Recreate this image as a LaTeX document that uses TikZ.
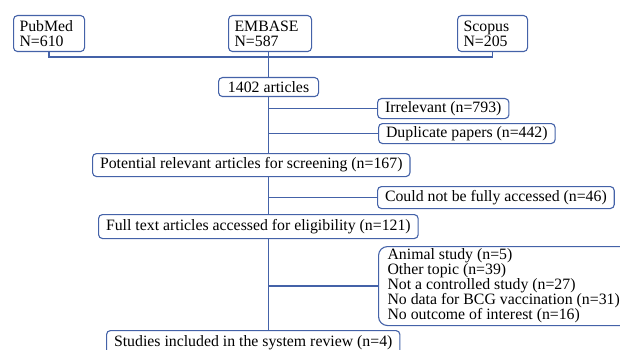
\documentclass[tikz,border=0pt]{standalone}
\usepackage{fontspec}
\setmainfont{Liberation Serif}
\usetikzlibrary{positioning}
\definecolor{boxblue}{RGB}{68,98,168}

\tikzset{
  box/.style={draw=boxblue, rounded corners=4pt, line width=1.1pt,
    inner xsep=7.5pt, inner ysep=0pt, anchor=north west, align=left,
    font=\fontsize{15.8}{15}\selectfont},
  dbbox/.style={box, inner xsep=6pt, minimum height=36pt},
  listbox/.style={box, rounded corners=9pt, inner xsep=9pt},
  flow/.style={draw=boxblue, line width=1.8pt}
}

\begin{document}
\begin{tikzpicture}[x=1pt,y=-1pt]
  \useasboundingbox (0,0) rectangle (620,350);
  \clip (0,0) rectangle (620,350);

  % databases
  \node[dbbox, text width=59pt] (pubmed) at (13,15) {PubMed\\N=610};
  \node[dbbox, text width=71pt] (embase) at (228,15) {EMBASE\\N=587};
  \node[dbbox, text width=58pt] (scopus) at (457,15) {Scopus\\N=205};

  % main column
  \node[box, minimum width=100pt, minimum height=19pt] (articles) at (218,77) {1402 articles};
  \coordinate (join) at (articles.north |- 0,57);
  \node[box, minimum height=23pt] (potential) at (92,153) {Potential relevant articles for screening (n=167)};
  \node[box, minimum height=24pt] (fulltext) at (98,214) {Full text articles accessed for eligibility (n=121)};
  \node[box, minimum height=24pt] (studies) at (106,330) {Studies included in the system review (n=4)};

  % exclusions
  \node[box, minimum height=20pt] (irrel) at (377,98) {Irrelevant (n=793)};
  \node[box, minimum height=20pt] (dup) at (378,123) {Duplicate papers (n=442)};
  \node[box, minimum height=22pt] (access) at (377,186) {Could not be fully accessed (n=46)};
  \node[listbox, minimum height=79pt] (other) at (378,246)
    {Animal study (n=5)\\Other topic (n=39)\\Not a controlled study (n=27)\\No data for BCG vaccination (n=31)\\No outcome of interest (n=16)};

  % connectors
  \draw[flow] (pubmed.south) |- (join) -| (scopus.south);
  \draw[flow] (articles.north |- embase.south) -- (articles.north);
  \draw[flow] (articles.south) -- (articles.south |- potential.north);
  \draw[flow] (articles.south |- irrel.west) -- (irrel.west);
  \draw[flow] (articles.south |- dup.west) -- (dup.west);
  \draw[flow] (articles.south |- potential.south) -- (articles.south |- fulltext.north);
  \draw[flow] (articles.south |- access.west) -- (access.west);
  \draw[flow] (articles.south |- fulltext.south) -- (articles.south |- studies.north);
  \draw[flow] (articles.south |- other.west) -- (other.west);
\end{tikzpicture}
\end{document}
